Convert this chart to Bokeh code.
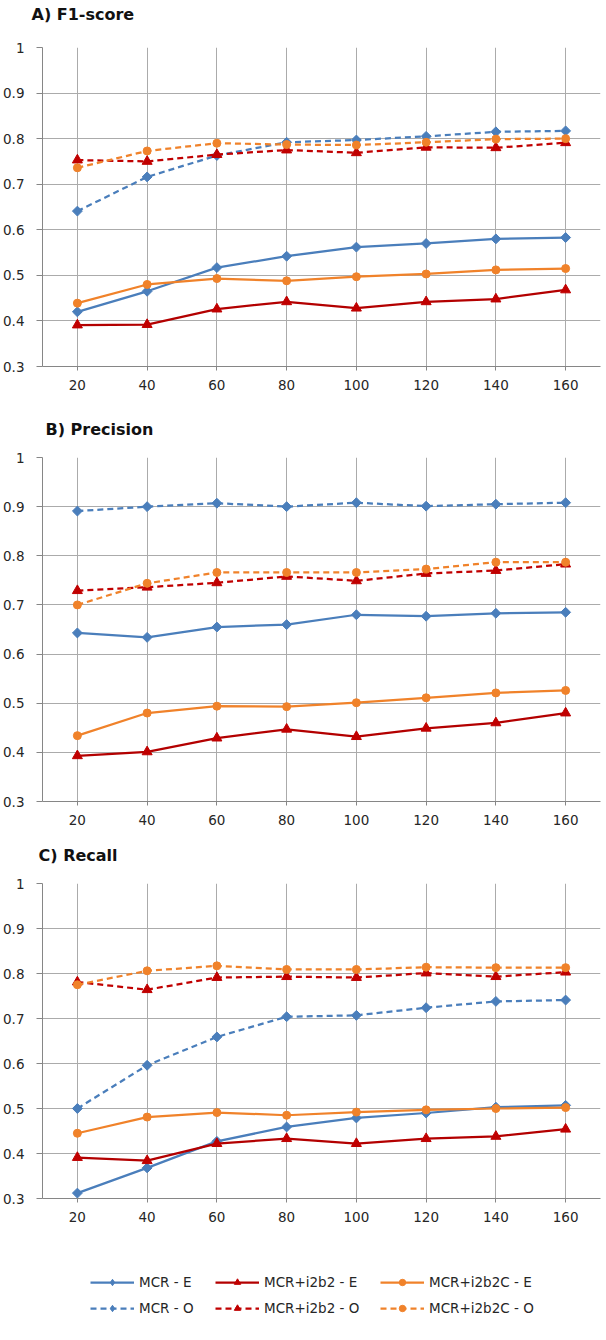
import math
from bokeh.plotting import figure
from bokeh.layouts import column
from bokeh.models import (Range1d, FixedTicker, Legend, LegendItem,
                          CustomJSTickFormatter)
from bokeh.embed import file_html
from bokeh.resources import INLINE

# ---------------- data ----------------
sizes = [20, 40, 60, 80, 100, 120, 140, 160]
y_ticks = [0.3, 0.4, 0.5, 0.6, 0.7, 0.8, 0.9, 1.0]

panel_titles = ["A) F1-score", "B) Precision", "C) Recall"]
series_labels = ["MCR - E", "MCR+i2b2 - E", "MCR+i2b2C - E",
                 "MCR - O", "MCR+i2b2 - O", "MCR+i2b2C - O"]

# A) F1-score
f1_mcr_e = [0.420, 0.465, 0.517, 0.542, 0.562, 0.570, 0.580, 0.583]
f1_i2b2_e = [0.391, 0.392, 0.426, 0.442, 0.428, 0.442, 0.448, 0.468]
f1_i2b2c_e = [0.439, 0.480, 0.493, 0.488, 0.497, 0.503, 0.512, 0.515]
f1_mcr_o = [0.641, 0.716, 0.763, 0.792, 0.797, 0.805, 0.815, 0.817]
f1_i2b2_o = [0.753, 0.750, 0.765, 0.775, 0.769, 0.781, 0.780, 0.791]
f1_i2b2c_o = [0.736, 0.773, 0.790, 0.787, 0.786, 0.792, 0.799, 0.800]

# B) Precision
pr_mcr_e = [0.643, 0.634, 0.655, 0.660, 0.680, 0.677, 0.683, 0.685]
pr_i2b2_e = [0.393, 0.401, 0.429, 0.447, 0.432, 0.449, 0.460, 0.480]
pr_i2b2c_e = [0.434, 0.480, 0.494, 0.493, 0.501, 0.511, 0.521, 0.526]
pr_mcr_o = [0.891, 0.900, 0.907, 0.900, 0.908, 0.901, 0.905, 0.908]
pr_i2b2_o = [0.729, 0.736, 0.745, 0.758, 0.749, 0.764, 0.770, 0.783]
pr_i2b2c_o = [0.700, 0.744, 0.766, 0.766, 0.766, 0.773, 0.787, 0.787]

# C) Recall
rc_mcr_e = [0.312, 0.368, 0.427, 0.459, 0.479, 0.490, 0.503, 0.507]
rc_i2b2_e = [0.391, 0.384, 0.422, 0.433, 0.422, 0.433, 0.438, 0.454]
rc_i2b2c_e = [0.445, 0.481, 0.491, 0.485, 0.492, 0.497, 0.500, 0.502]
rc_mcr_o = [0.500, 0.596, 0.659, 0.704, 0.707, 0.724, 0.738, 0.741]
rc_i2b2_o = [0.781, 0.764, 0.791, 0.793, 0.791, 0.801, 0.793, 0.803]
rc_i2b2c_o = [0.775, 0.806, 0.817, 0.809, 0.809, 0.814, 0.813, 0.813]

# ---------------- styles ----------------
BLUE = "#4A7EBB"
RED_LINE = "#B30000"
RED_MK = "#C00000"
ORANGE = "#F0822A"
FONT = "DejaVu Sans"
W = 604

styles = [
    dict(line=BLUE, mk=BLUE, marker="square", size=7, angle=math.pi / 4, dash="solid"),
    dict(line=RED_LINE, mk=RED_MK, marker="triangle", size=10, angle=0.0, dash="solid"),
    dict(line=ORANGE, mk=ORANGE, marker="circle", size=8, angle=0.0, dash="solid"),
    dict(line=BLUE, mk=BLUE, marker="square", size=7, angle=math.pi / 4, dash="6 4"),
    dict(line=RED_MK, mk=RED_MK, marker="triangle", size=10, angle=0.0, dash="6 4"),
    dict(line=ORANGE, mk=ORANGE, marker="circle", size=8, angle=0.0, dash="6 4"),
]
# legend glyphs (diamond drawn un-rotated in legends)
legend_markers = [("diamond", 10), ("triangle", 10), ("circle", 8)] * 2


def blank_fig(height, title=None):
    f = figure(width=W, height=height, output_backend="svg", toolbar_location=None,
               x_range=Range1d(0, 1), y_range=Range1d(0, 1),
               x_axis_location=None, y_axis_location=None, min_border=0,
               title=title)
    f.xgrid.visible = False
    f.ygrid.visible = False
    f.outline_line_color = None
    f.background_fill_color = "white"
    f.border_fill_color = "white"
    return f


def title_fig(text, height, offset, standoff):
    f = blank_fig(height, title=text)
    f.title.text_font = FONT
    f.title.text_font_size = "16px"
    f.title.text_font_style = "bold"
    f.title.text_color = "#111111"
    f.title.align = "left"
    f.title.offset = offset
    f.title.standoff = standoff
    return f


def make_panel(data, height, top, bottom):
    p = figure(width=W, height=height, output_backend="svg", toolbar_location=None,
               x_range=Range1d(10, 170), y_range=Range1d(0.3, 1.0),
               min_border_left=40, min_border_right=4,
               min_border_top=top, min_border_bottom=bottom)
    p.outline_line_color = None
    p.background_fill_color = "white"
    p.border_fill_color = "white"

    p.xaxis.ticker = FixedTicker(ticks=sizes)
    p.yaxis.ticker = FixedTicker(ticks=y_ticks)
    p.yaxis.formatter = CustomJSTickFormatter(
        code="return Math.abs(tick - 1) < 1e-9 ? '1' : tick.toFixed(1);")
    for ax in (p.xaxis[0], p.yaxis[0]):
        ax.axis_line_color = "#868686"
        ax.major_tick_line_color = "#868686"
        ax.minor_tick_line_color = None
        ax.major_tick_in = 0
        ax.major_label_text_font = FONT
        ax.major_label_text_font_size = "13.5px"
        ax.major_label_text_color = "#262626"
    p.yaxis.major_tick_out = 6
    p.yaxis.major_label_standoff = 12
    p.xaxis.major_tick_out = 4
    p.xaxis.major_label_standoff = 9
    p.xgrid.grid_line_color = "#ABABAB"
    p.ygrid.grid_line_color = "#ABABAB"

    for vals, st in zip(data, styles):
        p.line(sizes, vals, line_color=st["line"], line_width=2.25, line_dash=st["dash"])
        p.scatter(sizes, vals, marker=st["marker"], size=st["size"], angle=st["angle"],
                  fill_color=st["mk"], line_color=st["mk"], line_width=1)
    return p


tA = title_fig(panel_titles[0], 30, -11, 4)
pA = make_panel([f1_mcr_e, f1_i2b2_e, f1_i2b2c_e, f1_mcr_o, f1_i2b2_o, f1_i2b2c_o],
                387, 17, 51)
tB = title_fig(panel_titles[1], 26, 3, 0)
pB = make_panel([pr_mcr_e, pr_i2b2_e, pr_i2b2c_e, pr_mcr_o, pr_i2b2_o, pr_i2b2c_o],
                400, 14, 42)
tC = title_fig(panel_titles[2], 26, -4, 0)
pC = make_panel([rc_mcr_e, rc_i2b2_e, rc_i2b2c_e, rc_mcr_o, rc_i2b2_o, rc_i2b2c_o],
                371, 14, 42)

# ---------------- legend ----------------
pl = blank_fig(95)
nan = float("nan")
groups = [(0, 3), (1, 4), (2, 5)]
legend_x = [48, 173, 338]
for (i_e, i_o), lx in zip(groups, legend_x):
    items = []
    for idx in (i_e, i_o):
        st = styles[idx]
        mk, ms = legend_markers[idx]
        rl = pl.line(x=[nan], y=[nan], line_color=st["line"], line_width=2.25,
                     line_dash=st["dash"])
        rs = pl.scatter(x=[nan], y=[nan], marker=mk, size=ms,
                        fill_color=st["mk"], line_color=st["mk"])
        items.append(LegendItem(label=series_labels[idx], renderers=[rl, rs]))
    leg = Legend(items=items, location=(lx, 19), orientation="vertical",
                 padding=0, margin=0, spacing=10, glyph_width=44, glyph_height=16,
                 label_height=16, label_standoff=5,
                 label_text_font=FONT, label_text_font_size="13.5px",
                 label_text_color="#262626",
                 background_fill_alpha=0, border_line_color=None)
    pl.add_layout(leg)

layout = column(tA, pA, tB, pB, tC, pC, pl, spacing=0)

open("out.html", "w").write(file_html(layout, INLINE))
